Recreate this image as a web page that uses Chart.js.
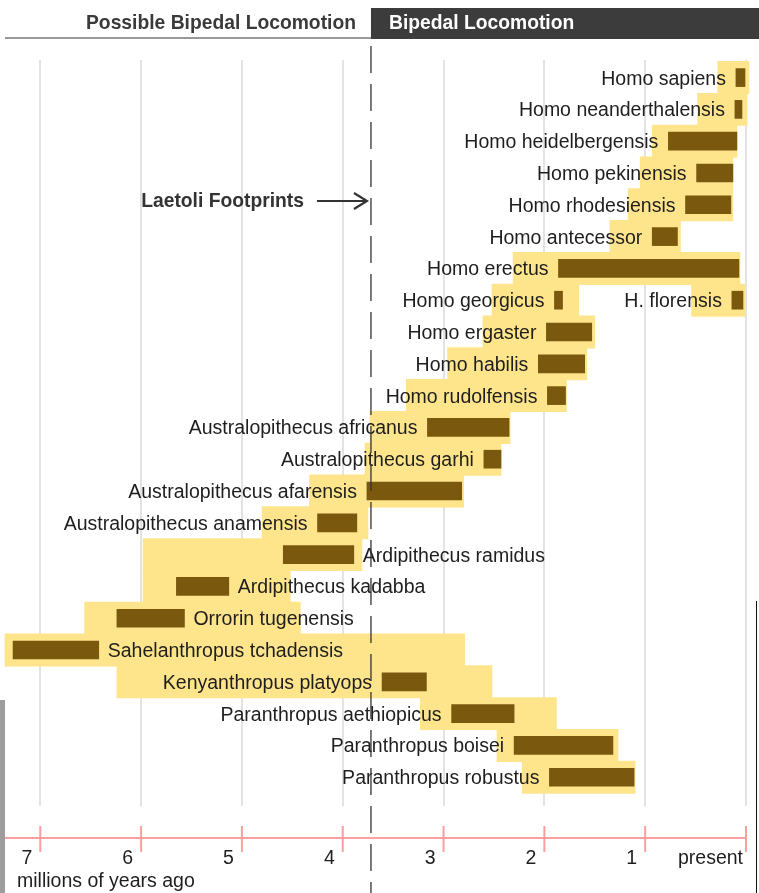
<!DOCTYPE html>
<html>
<head>
<meta charset="utf-8">
<script src="https://cdn.jsdelivr.net/npm/chart.js@4"></script>
<style>
  html, body { margin: 0; padding: 0; background: #fff; }
  #wrap { position: relative; width: 759px; height: 893px; }
</style>
</head>
<body>
<div id="wrap"><canvas id="timeline" width="759" height="893"></canvas></div>
<script>
// --- DATA (millions of years ago) ---

const species = [
    'Homo sapiens', 'Homo neanderthalensis', 'Homo heidelbergensis', 'Homo pekinensis',
    'Homo rhodesiensis', 'Homo antecessor', 'Homo erectus', 'Homo georgicus', 'H. florensis',
    'Homo ergaster', 'Homo habilis', 'Homo rudolfensis', 'Australopithecus africanus',
    'Australopithecus garhi', 'Australopithecus afarensis', 'Australopithecus anamensis',
    'Ardipithecus ramidus', 'Ardipithecus kadabba', 'Orrorin tugenensis',
    'Sahelanthropus tchadensis', 'Kenyanthropus platyops', 'Paranthropus aethiopicus',
    'Paranthropus boisei', 'Paranthropus robustus'
];
const rows = [0, 1, 2, 3, 4, 5, 6, 7, 7, 8, 9, 10, 11, 12, 13, 14, 15, 16, 17, 18, 19, 20, 21, 22];

// dark bars: fossil range
const barStart = [0.10, 0.11, 0.77, 0.49, 0.60, 0.93, 1.86, 1.90, 0.14, 1.98, 2.06, 1.97, 3.16, 2.60, 3.76, 4.25, 4.59, 5.65, 6.24, 7.27, 3.61, 2.92, 2.30, 1.95];
const barEnd   = [0.00, 0.04, 0.09, 0.13, 0.15, 0.68, 0.07, 1.82, 0.03, 1.53, 1.60, 1.79, 2.35, 2.43, 2.82, 3.86, 3.89, 5.13, 5.57, 6.42, 3.17, 2.30, 1.32, 1.11];

// light bands behind each species
const bandStart = [0.28, 0.48, 0.93, 1.05, 1.17, 1.35, 2.31, 2.52, 0.54, 2.61, 2.96, 3.37, 3.73, 3.78, 4.33, 4.80, 5.98, 5.98, 6.56, 7.35, 6.24, 3.23, 2.47, 2.22];
const bandEnd   = [-0.03, -0.01, 0.09, 0.13, 0.13, 0.65, 0.06, 1.66, 0.01, 1.50, 1.58, 1.78, 2.34, 2.43, 2.80, 3.75, 3.81, 4.52, 4.42, 2.79, 2.52, 1.88, 1.27, 1.10];

const tickValues = [7, 6, 5, 4, 3, 2, 1, 0];
const tickLabels = ['7', '6', '5', '4', '3', '2', '1', 'present'];
const laetoliMya = 3.72;

const headerLeft = 'Possible Bipedal Locomotion';
const headerRight = 'Bipedal Locomotion';
const laetoliLabel = 'Laetoli Footprints';
const axisTitle = 'millions of years ago';

const RIGHT_LABELS = ['Ardipithecus ramidus', 'Ardipithecus kadabba', 'Orrorin tugenensis', 'Sahelanthropus tchadensis'];

const COLORS = {
    band: '#fee58c',
    bar: '#7a580d',
    text: '#1e1e1e',
    axis: '#ff9e9e',
    header: '#3c3c3c'
};

const FONT = '"Liberation Sans", Arial, sans-serif';

// --- DRAWING ---

const overlay = {
    id: 'overlay',
    afterDraw(chart) {
        const ctx = chart.ctx;
        const xs = chart.scales.x;
        const ys = chart.scales.y;
        ctx.save();

        // species names
        ctx.font = `19.5px ${FONT}`;
        ctx.fillStyle = COLORS.text;
        ctx.textBaseline = 'alphabetic';
        species.forEach((name, i) => {
            const y = ys.getPixelForValue(rows[i]) + 7;
            if (RIGHT_LABELS.includes(name)) {
                ctx.textAlign = 'left';
                ctx.fillText(name, xs.getPixelForValue(barEnd[i]) + 9, y);
            } else {
                ctx.textAlign = 'right';
                ctx.fillText(name, xs.getPixelForValue(barStart[i]) - 10, y);
            }
        });

        // header
        ctx.fillStyle = COLORS.header;
        const divX = xs.getPixelForValue(laetoliMya);
        ctx.fillRect(divX, 8, chart.width - divX, 31);
        ctx.fillStyle = '#999';
        ctx.fillRect(5, 37, divX - 5, 2);
        ctx.font = `bold 19.3px ${FONT}`;
        ctx.textAlign = 'right';
        ctx.fillStyle = '#3a3a3a';
        ctx.fillText(headerLeft, divX - 15, 29);
        ctx.textAlign = 'left';
        ctx.fillStyle = '#fff';
        ctx.fillText(headerRight, divX + 18, 29);

        // Laetoli marker
        ctx.fillStyle = '#333';
        ctx.textAlign = 'right';
        ctx.fillText(laetoliLabel, divX - 67, 207);
        ctx.strokeStyle = '#333';
        ctx.lineWidth = 2.2;
        ctx.beginPath();
        ctx.moveTo(divX - 54, 201);
        ctx.lineTo(divX - 4, 201);
        ctx.moveTo(divX - 17, 193);
        ctx.lineTo(divX - 4, 201);
        ctx.lineTo(divX - 17, 209);
        ctx.stroke();

        ctx.lineWidth = 1.3;
        ctx.setLineDash([27, 11]);
        ctx.beginPath();
        ctx.moveTo(divX, 46);
        ctx.lineTo(divX, chart.height);
        ctx.stroke();
        ctx.setLineDash([]);

        // time axis
        const axisY = 838;
        ctx.strokeStyle = COLORS.axis;
        ctx.lineWidth = 2;
        ctx.beginPath();
        ctx.moveTo(5, axisY);
        ctx.lineTo(xs.getPixelForValue(0) + 1, axisY);
        ctx.stroke();
        ctx.font = `19.5px ${FONT}`;
        ctx.fillStyle = COLORS.text;
        ctx.textAlign = 'right';
        tickValues.forEach((v, k) => {
            const x = xs.getPixelForValue(v);
            ctx.beginPath();
            ctx.moveTo(x, axisY - 12);
            ctx.lineTo(x, axisY + 14);
            ctx.stroke();
            ctx.fillText(tickLabels[k], x - (v === 0 ? 3 : 8), 864);
        });
        ctx.textAlign = 'left';
        ctx.fillText(axisTitle, 17, 887);

        // scanned edges of the source image
        ctx.fillStyle = '#9d9d9d';
        ctx.fillRect(0, 700, 5, chart.height - 700);
        ctx.fillStyle = '#111';
        ctx.fillRect(756, 601, 1, chart.height - 601);

        ctx.restore();
    }
};

function makePoints(starts, ends) {
    return starts.map((s, i) => ({ x: [s, ends[i]], y: rows[i] }));
}

new Chart(document.getElementById('timeline'), {
    type: 'bar',
    data: {
        datasets: [
            {
                label: 'Fossil range',
                data: makePoints(barStart, barEnd),
                backgroundColor: COLORS.bar,
                barThickness: 18,
                grouped: false,
                clip: false,
                borderSkipped: false,
                order: 1
            },
            {
                label: 'Lineage band',
                data: makePoints(bandStart, bandEnd),
                backgroundColor: COLORS.band,
                barThickness: 32.3,
                grouped: false,
                clip: false,
                borderSkipped: false,
                order: 2
            }
        ]
    },
    options: {
        indexAxis: 'y',
        responsive: false,
        animation: false,
        layout: { padding: { left: 5, right: 13, top: 60, bottom: 87 } },
        plugins: { legend: { display: false }, tooltip: { enabled: false } },
        scales: {
            x: {
                type: 'linear',
                reverse: true,
                min: 0,
                max: 7.35,
                z: 1,
                afterFit: (s) => { s.height = 0; },
                ticks: { display: false, stepSize: 1, includeBounds: false },
                border: { display: false },
                grid: { color: 'rgba(0,0,0,0.11)', lineWidth: 2, drawTicks: false }
            },
            y: {
                type: 'linear',
                reverse: true,
                offset: false,
                min: -0.553,
                max: 22.905,
                display: false
            }
        }
    },
    plugins: [overlay]
});
</script>
</body>
</html>
